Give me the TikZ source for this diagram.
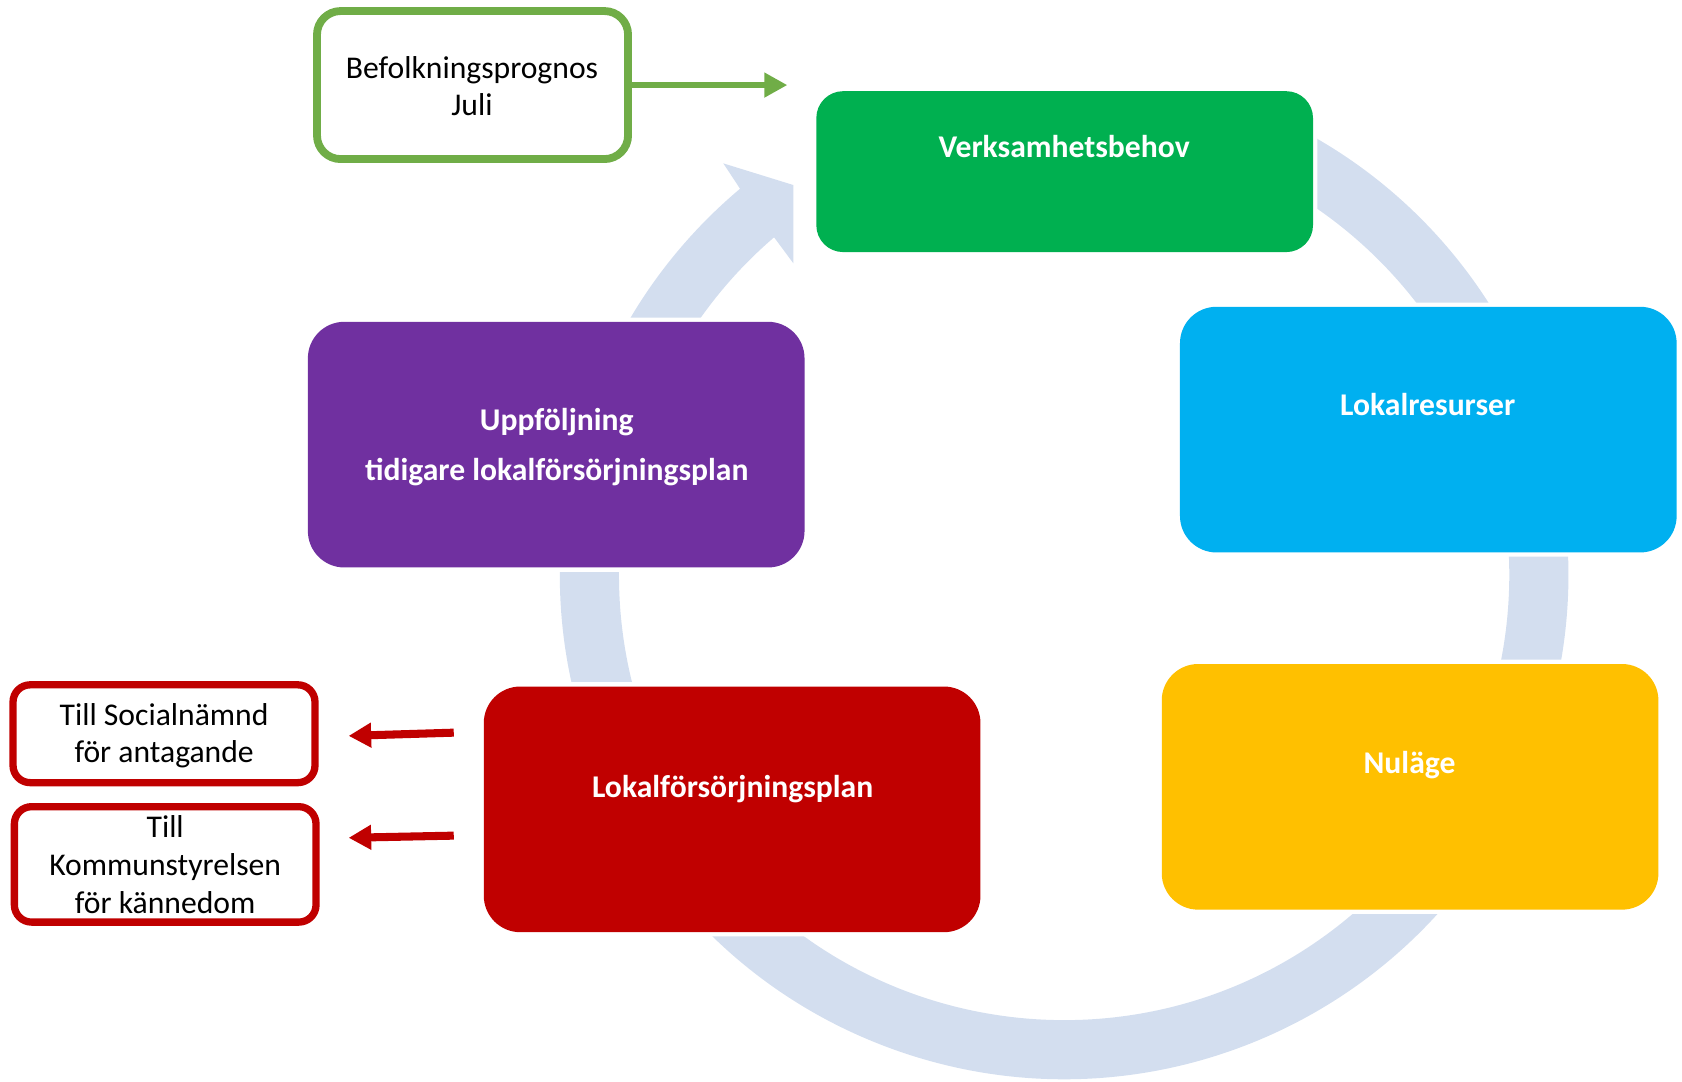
\documentclass[tikz,border=0pt]{standalone}
\usepackage{fontspec}
\setmainfont{Carlito}
\usetikzlibrary{arrows.meta,calc}
\definecolor{ringc}{RGB}{211,222,239}
\definecolor{vgreen}{RGB}{0,176,80}
\definecolor{lblue}{RGB}{0,176,240}
\definecolor{nyellow}{RGB}{255,192,0}
\definecolor{pred}{RGB}{192,0,0}
\definecolor{upurple}{RGB}{112,48,160}
\definecolor{bgreen}{RGB}{112,173,71}
\tikzset{
  phasebox/.style={rectangle, inner sep=0pt, outer sep=0pt,
    preaction={draw=white, line width=8pt}},
  outbox/.style={rectangle, inner sep=0pt, outer sep=0pt, fill=white},
  lbl/.style={anchor=base, inner sep=0pt, outer sep=0pt, text=black,
    font=\fontsize{29.5}{35}\selectfont},
  plbl/.style={anchor=base, inner sep=0pt, outer sep=0pt, text=white,
    font=\bfseries\fontsize{29.5}{35}\selectfont},
  redarrow/.style={draw=pred, line width=7.5pt, -{Triangle[length=21pt,width=22pt]}},
  greenarrow/.style={draw=bgreen, line width=6pt, -{Triangle[length=21.5pt,width=22pt]}}
}
\begin{document}
\begin{tikzpicture}[x=1pt,y=-1pt]
\useasboundingbox (0,0) rectangle (1568,1008);

% circular arrow ring
\coordinate (O) at (992,536);
\coordinate (hA) at (674.3,152.3);
\coordinate (hB) at (739.6,172.5);
\coordinate (hC) at (739.6,245.5);
\fill[ringc] ($(O)+(70:470pt)$) arc[start angle=70, end angle=-230, radius=470pt]
  -- (hA) -- (hB) -- (hC) -- ($(O)+(-229.34:415pt)$)
  arc[start angle=-229.34, end angle=70, radius=415pt] -- cycle;

% phase boxes
\node[phasebox, fill=vgreen, rounded corners=25pt, minimum width=463pt, minimum height=150pt] (verk) at (992.5,160) {};
\node[phasebox, fill=lblue, rounded corners=34pt, minimum width=463pt, minimum height=229pt] (lokal) at (1331.5,400.5) {};
\node[phasebox, fill=nyellow, rounded corners=34pt, minimum width=463pt, minimum height=229pt] (nul) at (1314.5,733.5) {};
\node[phasebox, fill=pred, rounded corners=34pt, minimum width=463pt, minimum height=229pt] (plan) at (682.5,754.5) {};
\node[phasebox, fill=upurple, rounded corners=34pt, minimum width=463pt, minimum height=229pt] (upp) at (518.5,414.5) {};

\node[plbl] (verkT) at (992,146.5) {Verksamhetsbehov};
\node[plbl] (lokalT) at (1331,387.5) {Lokalresurser};
\node[plbl] (nulT) at (1314,721) {Nuläge};
\node[plbl] (planT) at (683,743) {Lokalförsörjningsplan};
\node[plbl] (uppT1) at (519,401.5) {Uppföljning};
\node[plbl] (uppT2) at (519,448) {tidigare lokalförsörjningsplan};

% outside boxes
\node[outbox, draw=bgreen, line width=7.3pt, rounded corners=22pt, minimum width=290pt, minimum height=138pt] (befolk) at (440.5,79.3) {};
\node[lbl] (befolkT1) at (440,73.5) {Befolkningsprognos};
\node[lbl] (befolkT2) at (440,108) {Juli};

\node[outbox, draw=pred, line width=6.8pt, rounded corners=16pt, minimum width=281.5pt, minimum height=91.2pt] (soc) at (152.9,684) {};
\node[lbl] (socT1) at (153,676.5) {Till Socialnämnd};
\node[lbl] (socT2) at (153,711) {för antagande};

\node[outbox, draw=pred, line width=6.8pt, rounded corners=16pt, minimum width=281.2pt, minimum height=107.6pt] (ks) at (154,805.8) {};
\node[lbl] (ksT1) at (154,780.5) {Till};
\node[lbl] (ksT2) at (154,816.5) {Kommunstyrelsen};
\node[lbl] (ksT3) at (154,852) {för kännedom};

% arrows
\coordinate (gtip) at (734,79.3);
\draw[greenarrow] (befolk.east) -- (gtip);

\coordinate (r1s) at (423,683);
\coordinate (r1e) at (325,686);
\coordinate (r2s) at (423,779);
\coordinate (r2e) at (325,781);
\draw[redarrow] (r1s) -- (r1e);
\draw[redarrow] (r2s) -- (r2e);
\end{tikzpicture}
\end{document}
